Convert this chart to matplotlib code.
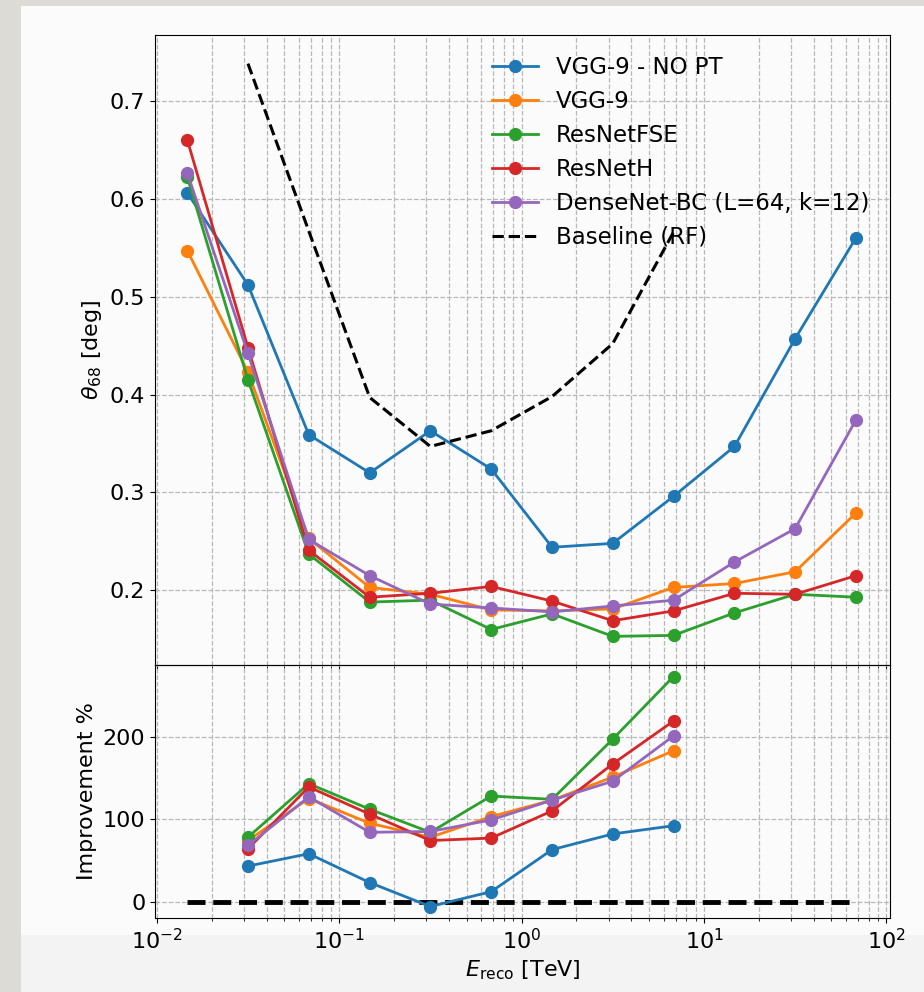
import matplotlib
matplotlib.use('Agg')
import matplotlib.pyplot as plt
import matplotlib.patches as mpatches
import numpy as np

plt.rcParams['font.size'] = 16

# energy bin centres [TeV]
e_reco = [0.0147, 0.0316, 0.0681, 0.147, 0.316, 0.681, 1.47, 3.16, 6.81, 14.7, 31.6, 68.1]

# angular resolution theta68 [deg]
vgg_nopt = [0.606, 0.512, 0.359, 0.320, 0.363, 0.324, 0.244, 0.248, 0.296, 0.347, 0.457, 0.560]
vgg9 = [0.547, 0.423, 0.253, 0.203, 0.196, 0.180, 0.179, 0.181, 0.203, 0.207, 0.219, 0.279]
resnetfse = [0.622, 0.415, 0.237, 0.188, 0.190, 0.160, 0.176, 0.153, 0.154, 0.177, 0.196, 0.193]
resneth = [0.660, 0.448, 0.241, 0.193, 0.197, 0.204, 0.189, 0.169, 0.179, 0.197, 0.196, 0.215]
densenet = [0.626, 0.442, 0.252, 0.215, 0.186, 0.182, 0.178, 0.184, 0.190, 0.229, 0.263, 0.374]
baseline = [0.738, 0.567, 0.397, 0.347, 0.363, 0.398, 0.452, 0.566]   # bins 1..8

# improvement over baseline [%], bins 1..8
imp_vgg_nopt = [43, 58, 23, -6, 12, 63, 82, 92]
imp_vgg9 = [74, 125, 95, 78, 103, 123, 151, 183]
imp_resnetfse = [78, 143, 112, 84, 128, 124, 197, 273]
imp_resneth = [64, 139, 106, 74, 77, 110, 167, 219]
imp_densenet = [68, 127, 84, 85, 99, 123, 146, 201]
zero_line = [0] * len(e_reco)

labels = ['VGG-9 - NO PT', 'VGG-9', 'ResNetFSE', 'ResNetH', 'DenseNet-BC (L=64, k=12)']
colors = ['#1f77b4', '#ff7f0e', '#2ca02c', '#d62728', '#9467bd']

fig = plt.figure(figsize=(9.24, 9.92), dpi=100)
fig.patch.set_facecolor('#dcdbd6')
# white page behind the plot
fig.patches.append(mpatches.Rectangle((21/924, 0), 1, 1 - 6/992, transform=fig.transFigure,
                                      facecolor='#fbfbfb', edgecolor='none', zorder=-10))
fig.patches.append(mpatches.Rectangle((21/924, 0), 1, 57/992, transform=fig.transFigure,
                                      facecolor='#f3f3f3', edgecolor='none', zorder=-9))

x0, x1 = 155/924, 890/924
y_mid = 1 - 665/992
ax1 = fig.add_axes([x0, y_mid, x1 - x0, (1 - 35/992) - y_mid])
ax2 = fig.add_axes([x0, 1 - 918/992, x1 - x0, y_mid - (1 - 918/992)], sharex=ax1)
for ax in (ax1, ax2):
    ax.set_facecolor('none')

# top panel
for vals, lab, c in zip([vgg_nopt, vgg9, resnetfse, resneth, densenet], labels, colors):
    ax1.plot(e_reco, vals, 'o-', color=c, lw=2, ms=8.5, label=lab)
ax1.plot(e_reco[1:9], baseline, 'k--', lw=2.2, label='Baseline (RF)')
ax1.set_xscale('log')
ax1.set_ylabel(r'$\theta_{68}$ [deg]')
ax1.set_yticks([0.2, 0.3, 0.4, 0.5, 0.6, 0.7])
ax1.grid(True, which='both', ls='--', color='#b8b8b8', lw=0.9)
plt.setp(ax1.get_xticklabels(), visible=False)
ax1.legend(loc='upper right', frameon=False, fontsize=16.5, labelspacing=0.48)

# bottom panel
ax2.plot(e_reco, zero_line, 'k--', lw=3.5)
for vals, c in zip([imp_vgg_nopt, imp_vgg9, imp_resnetfse, imp_resneth, imp_densenet], colors):
    ax2.plot(e_reco[1:9], vals, 'o-', color=c, lw=2, ms=8.5)
ax2.set_yticks([0, 100, 200])
ax2.set_ylabel('Improvement %')
ax2.set_xlabel(r'$E_{\mathrm{reco}}$ [TeV]')
ax2.grid(True, which='both', ls='--', color='#b8b8b8', lw=0.9)
ax2.set_xlim(10**-2.01, 10**2.02)

plt.savefig('out.png', dpi=100, facecolor=fig.get_facecolor())
